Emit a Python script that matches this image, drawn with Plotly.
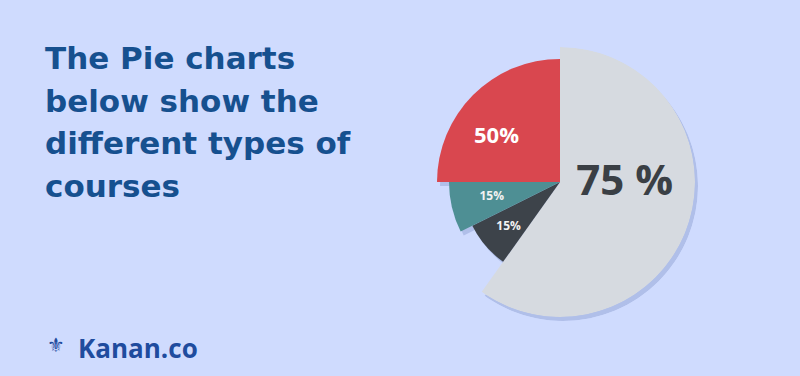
import plotly.graph_objects as go

# ---- data ----
slice_labels = ["75 %", "15%", "15%", "50%"]          # clockwise from 12 o'clock
slice_span_deg = [215.5, 28.0, 26.5, 90.0]             # angular width of each wedge
slice_radius = [135, 98, 111, 123]                     # relative outer radius
slice_colors = ["#d6dae0", "#3d434a", "#4e8f94", "#d9474f"]

title_lines = ["The Pie charts", "below show the", "different types of", "courses"]
brand = "Kanan.co"

# ---- label placement (style) ----
label_theta = [92.0, 228.5, 257.6, 305.0]
label_r_frac = [0.48, 0.70, 0.63, 0.63]
label_size = [42, 12, 12, 22]
label_color = ["#3a3f45", "#f2f2f2", "#f2f2f2", "#ffffff"]

# centres of the wedges
centres = []
start = 0.0
for w in slice_span_deg:
    centres.append(start + w / 2)
    start += w

W, H = 800, 376
cx, cy, R = 560, 182, 135


def dom(dx=0, dy=0):
    return dict(
        x=[(cx - R + dx) / W, (cx + R + dx) / W],
        y=[(H - cy - R - dy) / H, (H - cy + R - dy) / H],
    )


fig = go.Figure()

# soft shadow layer (first subplot -> drawn underneath)
fig.add_trace(go.Barpolar(
    r=slice_radius, theta=centres, width=slice_span_deg,
    marker=dict(color="rgba(70,90,160,0.22)", line=dict(width=0)),
    subplot="polar", hoverinfo="skip",
))

fig.add_trace(go.Barpolar(
    r=slice_radius, theta=centres, width=slice_span_deg,
    marker=dict(color=slice_colors, opacity=1, line=dict(width=0)),
    opacity=1, subplot="polar2", hoverinfo="skip",
))

fig.add_trace(go.Scatterpolar(
    r=[f * r for f, r in zip(label_r_frac, slice_radius)],
    theta=label_theta,
    mode="text",
    text=[f"<b>{t}</b>" for t in slice_labels],
    textfont=dict(size=label_size, color=label_color, family="Open Sans"),
    subplot="polar2", hoverinfo="skip",
))

polar_common = dict(
    bgcolor="rgba(0,0,0,0)",
    radialaxis=dict(range=[0, R], visible=False),
    angularaxis=dict(direction="clockwise", rotation=90, visible=False),
    bargap=0,
)
fig.update_layout(
    polar=dict(domain=dom(3, 4), **polar_common),
    polar2=dict(domain=dom(), **polar_common),
)

# title text, one annotation per line
for i, line in enumerate(title_lines):
    fig.add_annotation(
        x=43 / W, y=1 - (58 + 42.7 * i) / H, xref="paper", yref="paper",
        xanchor="left", yanchor="middle", align="left",
        text=f"<b>{line}</b>",
        showarrow=False,
        font=dict(family="DejaVu Sans", size=31, color="#16508f"),
    )

# brand
fig.add_annotation(
    x=76 / W, y=1 - 348 / H, xref="paper", yref="paper",
    xanchor="left", yanchor="middle",
    text=f"<b>{brand}</b>", showarrow=False,
    font=dict(family="Open Sans", size=26, color="#1f4c9e"),
)
fig.add_annotation(
    x=56 / W, y=1 - 345 / H, xref="paper", yref="paper",
    xanchor="center", yanchor="middle",
    text="<b>⚜</b>", showarrow=False,
    font=dict(family="DejaVu Sans", size=20, color="#1f4c9e"),
)

fig.update_layout(
    template="none",
    width=W, height=H,
    margin=dict(l=0, r=0, t=0, b=0),
    paper_bgcolor="#cfdbfe",
    plot_bgcolor="#cfdbfe",
    showlegend=False,
)

fig.write_html("out.html")
